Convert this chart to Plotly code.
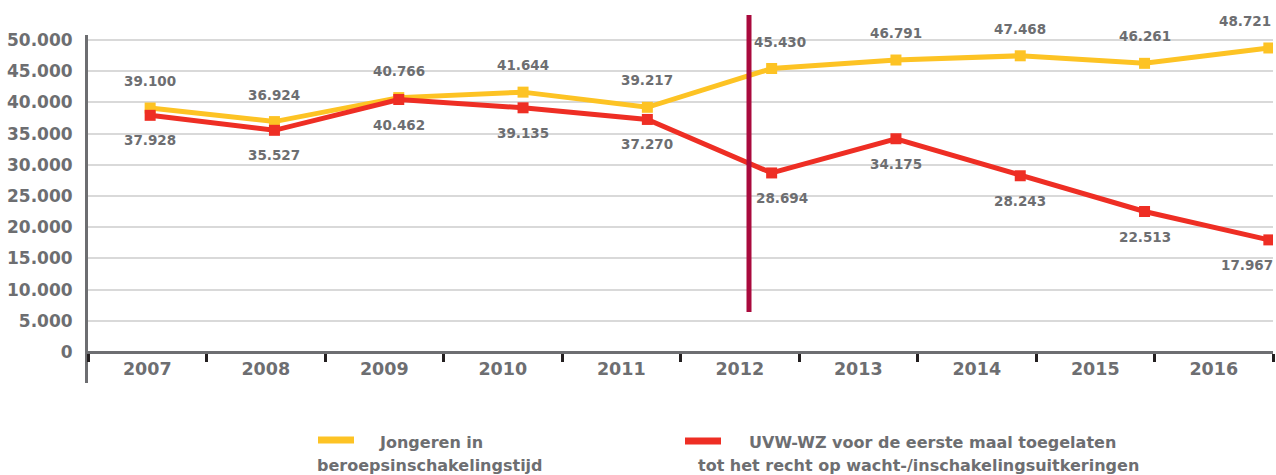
import plotly.graph_objects as go

years = ["2007", "2008", "2009", "2010", "2011", "2012", "2013", "2014", "2015", "2016"]
jongeren = [39100, 36924, 40766, 41644, 39217, 45430, 46791, 47468, 46261, 48721]
uvw = [37928, 35527, 40462, 39135, 37270, 28694, 34175, 28243, 22513, 17967]
y_ticks = [0, 5000, 10000, 15000, 20000, 25000, 30000, 35000, 40000, 45000, 50000]
legend_lines_1 = ["Jongeren in", "beroepsinschakelingstijd"]
legend_lines_2 = ["UVW-WZ voor de eerste maal toegelaten", "tot het recht op wacht-/inschakelingsuitkeringen"]

YELLOW = "#fdc324"
RED = "#ee2e24"
GRAY = "#6d6e71"
FONT = "DejaVu Sans"

W, H = 1276, 475
L, R, T, B = 88, 3, 35, 92
PW, PH = W - L - R, H - T - B


def px(x):
    return (x - L) / PW


def py(y):
    return (H - B - y) / PH


def fmt(v):
    return f"{v:,}".replace(",", ".")


fig = go.Figure()
fig.add_trace(go.Scatter(
    x=years, y=jongeren, xaxis="x2", yaxis="y", mode="lines+markers",
    name=" ".join(legend_lines_1),
    line=dict(color=YELLOW, width=5), marker=dict(symbol="square", size=11, color=YELLOW),
    showlegend=False, hoverinfo="skip"))
fig.add_trace(go.Scatter(
    x=years, y=uvw, xaxis="x2", yaxis="y", mode="lines+markers",
    name=" ".join(legend_lines_2),
    line=dict(color=RED, width=5), marker=dict(symbol="square", size=11, color=RED),
    showlegend=False, hoverinfo="skip"))
# invisible trace on primary category axis so it shows the year labels
fig.add_trace(go.Scatter(x=years, y=[None] * len(years), xaxis="x", yaxis="y",
                         mode="markers", showlegend=False, hoverinfo="skip"))

LBL_FONT = dict(family=FONT, size=13.5, color=GRAY, weight="bold")
n = len(years)
# label nudges (styling only): keep labels clear of the vertical marker and the right edge
x_nudge_top = {5: 8}
x_nudge_bot = {5: 10}
annotations = []
for i, v in enumerate(jongeren):
    last = i == n - 1
    annotations.append(dict(x=i, y=v, xref="x2", yref="y", text=fmt(v), showarrow=False,
                            yshift=27, xanchor="right" if last else "center",
                            xshift=4 if last else x_nudge_top.get(i, 0), font=LBL_FONT))
for i, v in enumerate(uvw):
    last = i == n - 1
    annotations.append(dict(x=i, y=v, xref="x2", yref="y", text=fmt(v), showarrow=False,
                            yshift=-25, xanchor="right" if last else "center",
                            xshift=6 if last else x_nudge_bot.get(i, 0), font=LBL_FONT))

LEG_FONT = dict(family=FONT, size=16, color=GRAY, weight="bold")
annotations.append(dict(x=px(431), y=py(442), xref="paper", yref="paper", text=legend_lines_1[0],
                        showarrow=False, xanchor="center", yanchor="middle", font=LEG_FONT))
annotations.append(dict(x=px(430), y=py(466), xref="paper", yref="paper", text=legend_lines_1[1],
                        showarrow=False, xanchor="center", yanchor="middle", font=LEG_FONT))
annotations.append(dict(x=px(932), y=py(442), xref="paper", yref="paper", text=legend_lines_2[0],
                        showarrow=False, xanchor="center", yanchor="middle", font=LEG_FONT))
annotations.append(dict(x=px(918), y=py(466), xref="paper", yref="paper", text=legend_lines_2[1],
                        showarrow=False, xanchor="center", yanchor="middle", font=LEG_FONT))

shapes = [
    # vertical marker line
    dict(type="line", xref="paper", yref="paper", x0=px(749), x1=px(749), y0=py(312), y1=py(15),
         line=dict(color="#a90a3d", width=5)),
    # legend swatches
    dict(type="line", xref="paper", yref="paper", x0=px(318), x1=px(354), y0=py(440), y1=py(440),
         line=dict(color=YELLOW, width=7)),
    dict(type="line", xref="paper", yref="paper", x0=px(685), x1=px(721), y0=py(441), y1=py(441),
         line=dict(color=RED, width=7)),
]

y_min = -(383 - 352) / 312 * 50000
y_max = (352 - 35) / 312 * 50000

fig.update_layout(
    width=W, height=H,
    margin=dict(l=L, r=R, t=T, b=B, pad=0),
    paper_bgcolor="white", plot_bgcolor="white",
    separators=",.",
    showlegend=False,
    xaxis=dict(type="category", categoryorder="array", categoryarray=years,
               range=[-0.5, 9.5], domain=[0, 1], anchor="free", position=(383 - 352) / PH,
               showline=True, linecolor=GRAY, linewidth=2.5,
               tickson="boundaries", ticks="outside", ticklen=8, tickwidth=2.5, tickcolor="#231f20",
               showgrid=False, zeroline=False,
               tickfont=dict(family=FONT, size=17.5, color=GRAY, weight="bold"), ticklabelstandoff=0),
    xaxis2=dict(type="category", categoryorder="array", categoryarray=years,
                range=[-0.5, -0.5 + PW / 124.3], overlaying="x", domain=[0, 1],
                showticklabels=False, showline=False, showgrid=False, zeroline=False, ticks=""),
    yaxis=dict(range=[y_min, y_max], tickvals=y_ticks, tickformat=",d",
               showline=True, linecolor=GRAY, linewidth=3,
               showgrid=True, gridcolor="#d9d9d9", gridwidth=2, zeroline=False,
               ticks="", ticklabelstandoff=9,
               tickfont=dict(family=FONT, size=17, color=GRAY, weight="bold")),
    annotations=annotations,
    shapes=shapes,
)

fig.write_html("out.html", config={"displayModeBar": False},
               post_script="document.body.style.margin='0';document.body.style.padding='0';")
